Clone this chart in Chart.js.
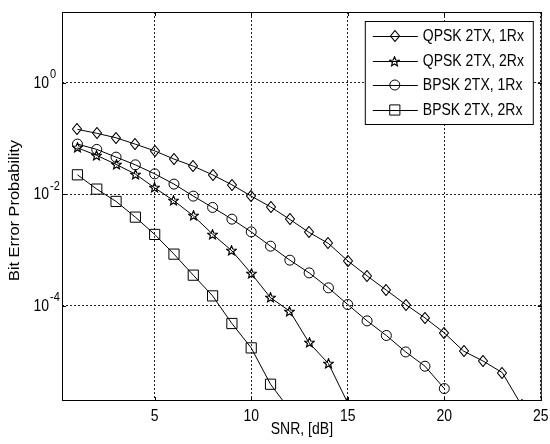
<!DOCTYPE html>
<html lang="en">
<head>
  <meta charset="UTF-8" />
  <title>Bit Error Probability vs SNR</title>
  <script src="https://cdn.jsdelivr.net/npm/chart.js"></script>
  <style>
    html, body { margin: 0; padding: 0; background: #fff; }
  </style>
</head>
<body>
  <canvas id="berChart" width="550" height="444"></canvas>

  <script>
    // SNR points in dB (all curves start at 1 dB)
    const snrDb = [1, 2, 3, 4, 5, 6, 7, 8, 9, 10, 11, 12, 13, 14, 15, 16, 17, 18, 19, 20, 21, 22, 23, 24];

    const seriesNames = ["QPSK 2TX, 1Rx", "QPSK 2TX, 2Rx", "BPSK 2TX, 1Rx", "BPSK 2TX, 2Rx"];

    const qpsk1Rx = [0.146, 0.124, 0.103, 0.079, 0.060, 0.0427, 0.0319, 0.0223, 0.01475, 0.00925,
      0.00594, 0.00353, 0.00206, 0.00131, 6.37e-4, 3.43e-4, 1.90e-4, 1.05e-4, 6.04e-5, 3.25e-5,
      1.53e-5, 1.02e-5, 6.32e-6, 1.64e-6];
    const qpsk2Rx = [0.0681, 0.0497, 0.0343, 0.0230, 0.0130, 0.00762, 0.00410, 0.00192, 9.64e-4, 3.79e-4,
      1.39e-4, 7.96e-5, 2.15e-5, 9.17e-6, 1.8e-6];
    const bpsk1Rx = [0.0794, 0.0637, 0.0463, 0.0337, 0.0232, 0.0152, 0.00925, 0.00579, 0.00357, 0.00211,
      0.00117, 6.56e-4, 3.88e-4, 2.09e-4, 1.05e-4, 5.34e-5, 2.92e-5, 1.48e-5, 8.20e-6, 3.26e-6];
    const bpsk2Rx = [0.0223, 0.01236, 0.00743, 0.00388, 0.0019, 8.41e-4, 3.53e-4, 1.50e-4, 4.79e-5, 1.75e-5,
      3.90e-6, 1.35e-6];

    const xTicks = [5, 10, 15, 20, 25];
    const yTicks = [1, 1e-2, 1e-4];

    const xTitle = "SNR, [dB]";
    const yTitle = "Bit Error Probability";

    const FONT = '"Liberation Sans", Arial, sans-serif';
    const STRETCH = 1.17; // the picture's text is a bit tall

    // matlab style markers as small images
    function makeMarker(w, h, draw) {
      const c = document.createElement("canvas");
      c.width = w; c.height = h;
      const g = c.getContext("2d");
      g.strokeStyle = "#000";
      g.lineWidth = 1.15;
      g.beginPath();
      draw(g);
      g.closePath();
      g.stroke();
      return c;
    }
    const starImg = makeMarker(11, 11, g => {
      for (let i = 0; i < 10; i++) {
        const r = i % 2 === 0 ? 5 : 2.2;
        const a = -Math.PI / 2 + i * Math.PI / 5;
        const px = 5.5 + r * Math.cos(a), py = 5.8 + r * Math.sin(a);
        if (i === 0) g.moveTo(px, py); else g.lineTo(px, py);
      }
    });
    const diamondImg = makeMarker(10, 12, g => {
      g.moveTo(5, 0.5);
      g.lineTo(9.5, 6);
      g.lineTo(5, 11.5);
      g.lineTo(0.5, 6);
    });

    const markers = [
      { style: diamondImg, radius: 5 },
      { style: starImg, radius: 5 },
      { style: "circle", radius: 5 },
      { style: "rect", radius: 7.2 }
    ];

    function toPoints(values) {
      return values.map((v, i) => ({ x: snrDb[i], y: v }));
    }

    const allSeries = [qpsk1Rx, qpsk2Rx, bpsk1Rx, bpsk2Rx];

    const datasets = allSeries.map((vals, i) => ({
      label: seriesNames[i],
      data: toPoints(vals),
      borderColor: "#000",
      borderWidth: 1,
      backgroundColor: "rgba(0,0,0,0)",
      pointStyle: markers[i].style,
      pointRadius: markers[i].radius,
      pointBorderColor: "#000",
      pointBackgroundColor: "rgba(0,0,0,0)",
      pointBorderWidth: 1,
      tension: 0
    }));

    function tallText(ctx, text, x, y, size, align, rotate) {
      ctx.save();
      ctx.translate(x, y);
      if (rotate) {
        ctx.rotate(-Math.PI / 2);
        ctx.scale(STRETCH, 1);
      } else {
        ctx.scale(1, STRETCH);
      }
      ctx.font = size + "px " + FONT;
      ctx.textAlign = align;
      ctx.textBaseline = "middle";
      ctx.fillStyle = "#000";
      ctx.fillText(text, 0, 0);
      ctx.restore();
    }

    // box, inward ticks, labels and the legend
    const matlabFrame = {
      id: "matlabFrame",
      beforeDatasetsDraw(chart) {
        chart.ctx.imageSmoothingEnabled = false;
      },
      afterDraw(chart) {
        const { ctx, chartArea: a, scales: { x, y } } = chart;
        ctx.save();
        ctx.imageSmoothingEnabled = false;
        ctx.strokeStyle = "#000";
        ctx.lineWidth = 1;

        ctx.beginPath();
        x.ticks.forEach(t => {
          const px = Math.round(x.getPixelForValue(t.value)) + 0.5;
          ctx.moveTo(px, a.bottom); ctx.lineTo(px, a.bottom - 4);
          ctx.moveTo(px, a.top); ctx.lineTo(px, a.top + 4);
        });
        y.ticks.forEach(t => {
          const py = Math.round(y.getPixelForValue(t.value)) + 0.5;
          ctx.moveTo(a.left, py); ctx.lineTo(a.left + 4, py);
          ctx.moveTo(a.right, py); ctx.lineTo(a.right - 4, py);
        });
        ctx.stroke();
        ctx.strokeRect(a.left + 0.5, a.top + 0.5, a.width - 1, a.height - 1);

        x.ticks.forEach(t => {
          tallText(ctx, String(t.value), x.getPixelForValue(t.value), a.bottom + 15, 14, "center");
        });
        y.ticks.forEach(t => {
          const py = y.getPixelForValue(t.value);
          const exp = String(Math.round(Math.log10(t.value)));
          tallText(ctx, "10", a.left - 13, py + 0.5, 14, "right");
          tallText(ctx, exp, a.left - 12, py - 8, 11, "left");
        });

        tallText(ctx, xTitle, (a.left + a.right) / 2, 429, 14, "center");
        tallText(ctx, yTitle, 15, (a.top + a.bottom) / 2 + 4, 14, "center", true);

        // legend
        const bx = a.right - 177, by = a.top + 9, bw = 168, bh = 103;
        ctx.fillStyle = "#fff";
        ctx.fillRect(bx, by, bw, bh);
        ctx.strokeRect(bx + 0.5, by + 0.5, bw, bh);
        chart.data.datasets.forEach((ds, i) => {
          const ly = Math.round(by + 15 + i * 24.6) + 0.5;
          ctx.strokeStyle = "#000";
          ctx.beginPath();
          ctx.moveTo(bx + 8, ly);
          ctx.lineTo(bx + 53, ly);
          ctx.stroke();
          ctx.fillStyle = "rgba(0,0,0,0)";
          Chart.helpers.drawPoint(ctx, {
            pointStyle: ds.pointStyle, radius: ds.pointRadius, rotation: 0, borderWidth: 1
          }, bx + 30, ly - 0.5);
          tallText(ctx, ds.label, bx + 58, ly, 14, "left");
        });
        ctx.restore();
      }
    };

    const ctx = document.getElementById("berChart").getContext("2d");
    new Chart(ctx, {
      type: "line",
      data: { datasets },
      options: {
        responsive: false,
        animation: false,
        layout: { padding: { top: 12, right: 4, left: 0, bottom: 0 } },
        plugins: {
          legend: { display: false },
          tooltip: { enabled: false }
        },
        scales: {
          x: {
            type: "linear",
            min: 0.2,
            max: 25.05,
            afterBuildTicks: s => { s.ticks = xTicks.map(v => ({ value: v })); },
            afterFit: s => { s.height = 43; },
            ticks: { display: false },
            grid: { color: "#222", lineWidth: 1, drawTicks: false },
            border: { display: false, dash: [2, 2] }
          },
          y: {
            type: "logarithmic",
            min: 1.95e-6,
            max: 18.6,
            afterBuildTicks: s => { s.ticks = yTicks.map(v => ({ value: v })); },
            afterFit: s => { s.width = 62; },
            ticks: { display: false },
            grid: { color: "#222", lineWidth: 1, drawTicks: false },
            border: { display: false, dash: [2, 2] }
          }
        }
      },
      plugins: [matlabFrame]
    });
  </script>
</body>
</html>
